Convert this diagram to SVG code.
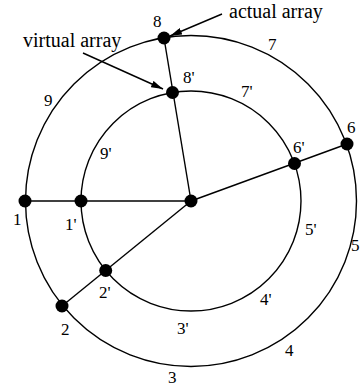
<svg xmlns="http://www.w3.org/2000/svg" width="360" height="390" viewBox="0 0 360 390">
<style>
.ring{fill:none;stroke:#000;stroke-width:1.4}
.spoke{stroke:#000;stroke-width:1.4;fill:none}
.arrow{stroke:#000;stroke-width:1.4;fill:none;marker-end:url(#ah)}
.dot{fill:#000}
.num{font-size:17px;fill:#000}
.cap{font-size:20px;fill:#000}
</style>
<defs>
<marker id="ah" markerUnits="userSpaceOnUse" markerWidth="12" markerHeight="7" refX="12" refY="3.5" orient="auto">
<path d="M0,0 L12,3.5 L0,7 z" fill="#000"/>
</marker>
</defs>
<g id="rings">
<circle class="ring" cx="191" cy="201" r="165.5"/>
<circle class="ring" cx="191" cy="201" r="110"/>
</g>
<g id="connectors">
<line class="spoke" x1="191" y1="201" x2="25" y2="201"/>
<line class="spoke" x1="191" y1="201" x2="164" y2="38"/>
<line class="spoke" x1="191" y1="201" x2="347" y2="144"/>
<line class="spoke" x1="191" y1="201" x2="62" y2="306"/>
<line class="arrow" x1="222" y1="14" x2="170" y2="36"/>
<line class="arrow" x1="83" y1="53" x2="163" y2="89"/>
</g>
<g font-family="Liberation Serif, DejaVu Serif, serif">
<g id="hub"><circle class="dot" cx="191" cy="201" r="6.5"/></g>
<g id="n1"><circle class="dot" cx="25" cy="201" r="6.5"/><text class="num" x="13" y="225">1</text></g>
<g id="n1p"><circle class="dot" cx="81" cy="201" r="6.5"/><text class="num" x="65" y="230">1'</text></g>
<g id="n8"><circle class="dot" cx="164" cy="38" r="6.5"/><text class="num" x="153" y="27">8</text></g>
<g id="n8p"><circle class="dot" cx="172.5" cy="92.5" r="6.5"/><text class="num" x="183" y="83">8'</text></g>
<g id="n6"><circle class="dot" cx="347" cy="144" r="6.5"/><text class="num" x="347" y="133">6</text></g>
<g id="n6p"><circle class="dot" cx="294.5" cy="163.5" r="6.5"/><text class="num" x="293" y="153">6'</text></g>
<g id="n2"><circle class="dot" cx="62" cy="306" r="6.5"/><text class="num" x="61" y="335">2</text></g>
<g id="n2p"><circle class="dot" cx="105.7" cy="270.5" r="6.5"/><text class="num" x="99" y="298">2'</text></g>
<g id="labels">
<text class="num" x="268" y="50">7</text>
<text class="num" x="241" y="97">7'</text>
<text class="num" x="44" y="106">9</text>
<text class="num" x="100" y="159">9'</text>
<text class="num" x="305" y="235">5'</text>
<text class="num" x="351" y="251">5</text>
<text class="num" x="260" y="305">4'</text>
<text class="num" x="285" y="356">4</text>
<text class="num" x="177" y="334">3'</text>
<text class="num" x="168" y="383">3</text>
<text class="cap" x="229" y="18">actual array</text>
<text class="cap" x="23" y="47">virtual array</text>
</g>
</g>
</svg>
